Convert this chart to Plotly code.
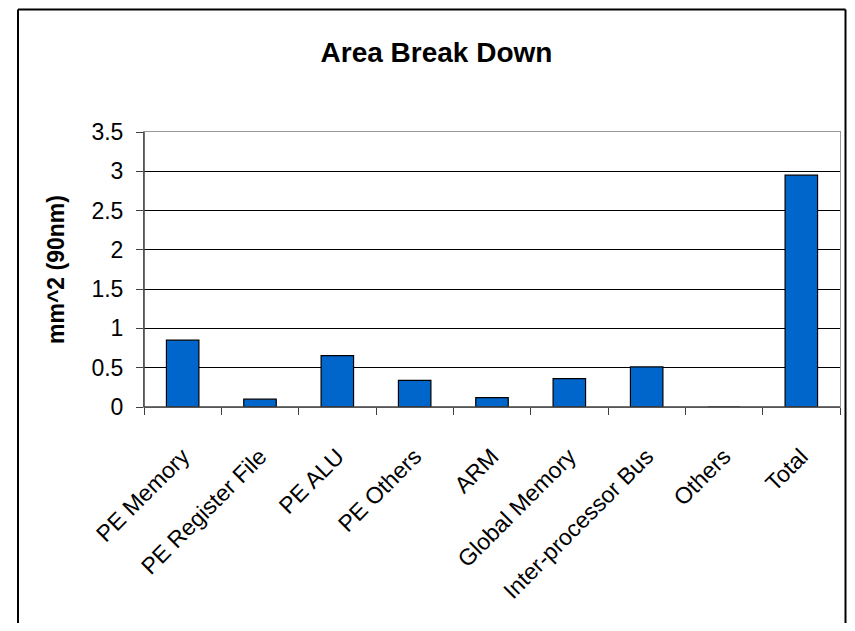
import plotly.graph_objects as go

categories = ["PE Memory", "PE Register File", "PE ALU", "PE Others", "ARM",
              "Global Memory", "Inter-processor Bus", "Others", "Total"]
area_mm2 = [0.85, 0.10, 0.655, 0.34, 0.12, 0.36, 0.51, 0.0, 2.95]
y_ticks = [0, 0.5, 1, 1.5, 2, 2.5, 3, 3.5]
y_tick_text = ["0", "0.5", "1", "1.5", "2", "2.5", "3", "3.5"]

FONT = "Liberation Sans, Arial, Helvetica, sans-serif"

fig = go.Figure()
fig.add_trace(go.Bar(
    x=categories,
    y=area_mm2,
    marker=dict(color="#0066CC", line=dict(color="#000000", width=1.2)),
    showlegend=False,
))

# the page body has an 8px default margin on every side; keep the figure
# inside the window so nothing overflows
OFF = 8
W, H = 855 - 2 * OFF, 631 - 2 * OFF
L = 144 - OFF
T = 132 - OFF
R = W - (840 - OFF)
B = H - (407 - OFF)

fig.update_layout(
    width=W, height=H,
    margin=dict(l=L, r=R, t=T, b=B, pad=0),
    paper_bgcolor="white",
    plot_bgcolor="white",
    bargap=0.58,
    font=dict(family=FONT, color="black"),
    title=dict(
        text="<b>Area Break Down</b>",
        font=dict(family=FONT, size=28, color="black"),
        x=(436.5 - OFF) / W, xref="container", xanchor="center",
        y=1 - (52 - OFF) / H, yref="container", yanchor="middle",
    ),
    xaxis=dict(
        type="category",
        showgrid=False,
        showline=True, linecolor="#999999", linewidth=1, mirror=True,
        ticks="outside", ticklen=7, tickcolor="#404040", tickwidth=1,
        tickson="boundaries",
        tickangle=-45,
        tickfont=dict(family=FONT, size=23, color="black"),
        ticklabelstandoff=26,
        zeroline=False,
    ),
    yaxis=dict(
        range=[0, 3.5],
        tickvals=y_ticks,
        ticktext=y_tick_text,
        showgrid=True, gridcolor="#000000", gridwidth=1,
        showline=True, linecolor="#999999", linewidth=1, mirror=True,
        ticks="outside", ticklen=7, tickcolor="#404040", tickwidth=1,
        tickfont=dict(family=FONT, size=23, color="black"),
        ticklabelstandoff=8,
        zeroline=False,
        title=dict(text="<b>mm^2 (90nm)</b>",
                   font=dict(family=FONT, size=23, color="black"),
                   standoff=20),
    ),
)

# darker left and bottom axis lines
fig.add_shape(type="line", xref="paper", yref="paper", x0=0, x1=0, y0=0, y1=1,
              line=dict(color="#404040", width=1.5), layer="above")
fig.add_shape(type="line", xref="paper", yref="paper", x0=0, x1=1, y0=0, y1=0,
              line=dict(color="#404040", width=1.5), layer="above")

# outer chart frame (left, top, right edges), figure-pixel positions
pw, ph = W - L - R, H - T - B
def px_x(fx):
    return (fx - L) / pw
def px_y(fy):
    return (H - B - fy) / ph

frame_left, frame_right, frame_top, frame_bottom = 10, W - 1.5, 1.5, H + 5
frame = dict(color="#000000", width=2)
fig.add_shape(type="line", xref="paper", yref="paper",
              x0=px_x(frame_left), x1=px_x(frame_left),
              y0=px_y(frame_bottom), y1=px_y(frame_top), line=frame, layer="above")
fig.add_shape(type="line", xref="paper", yref="paper",
              x0=px_x(frame_right), x1=px_x(frame_right),
              y0=px_y(frame_bottom), y1=px_y(frame_top), line=frame, layer="above")
fig.add_shape(type="line", xref="paper", yref="paper",
              x0=px_x(frame_left), x1=px_x(frame_right),
              y0=px_y(frame_top), y1=px_y(frame_top), line=frame, layer="above")

fig.write_html("out.html")
